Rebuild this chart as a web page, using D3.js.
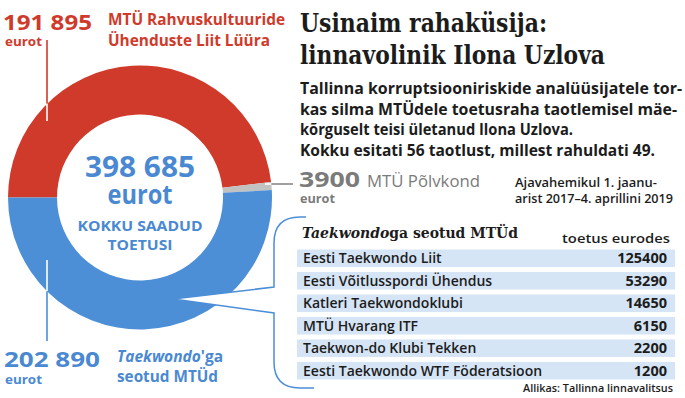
<!DOCTYPE html>
<html>
<head>
<meta charset="utf-8">
<script src="https://cdn.jsdelivr.net/npm/d3@7"></script>
<style>
  body { margin: 0; background: #fff; }
  svg { display: block; }
</style>
</head>
<body>
<svg id="chart" width="685" height="398"></svg>
<script>
// donut data
const segNames = ["MTÜ Rahvuskultuuride Ühenduste Liit Lüüra", "MTÜ Põlvkond", "Taekwondo'ga seotud MTÜd"];
const segValues = [191895, 3900, 202890];

// table data
const tableNames = [
    "Eesti Taekwondo Liit",
    "Eesti Võitlusspordi Ühendus",
    "Katleri Taekwondoklubi",
    "MTÜ Hvarang ITF",
    "Taekwon-do Klubi Tekken",
    "Eesti Taekwondo WTF Föderatsioon"
];
const tableValues = [125400, 53290, 14650, 6150, 2200, 1200];

const red = "#d03a2b";
const blue = "#4c8fd7";
const blueText = "#4a89d2";
const grey = "#c2c2c2";
const greyText = "#7b7b7b";
const ink = "#1c1c1c";
const segColors = [red, grey, blue];

// estonian style: space as thousands separator, only from 5 digits up
const et = d3.formatLocale({ decimal: ",", thousands: " ", grouping: [3], currency: ["", ""] });
const fmt = v => v >= 10000 ? et.format(",")(v) : String(v);

const svg = d3.select("#chart");
const sans = "'Open Sans', 'Noto Sans', sans-serif";
const serif = "'DejaVu Serif', serif";

function addText(x, y, str, o) {
    const t = svg.append("text")
        .attr("x", x)
        .attr("y", y)
        .attr("font-family", o.family || sans)
        .attr("font-size", o.size)
        .attr("font-weight", o.weight || 700)
        .attr("fill", o.fill || ink)
        .attr("text-anchor", o.anchor || "start")
        .text(str);
    if (o.len) t.attr("textLength", o.len).attr("lengthAdjust", "spacingAndGlyphs");
    if (o.style) t.attr("font-style", o.style);
    return t;
}

// ---- donut ----
const cx = 140, cy = 197.5, rOut = 132, rIn = 83;
const pie = d3.pie().sort(null).startAngle(-Math.PI / 2).endAngle(1.5 * Math.PI);
const arc = d3.arc().innerRadius(rIn).outerRadius(rOut);

svg.append("g")
    .attr("transform", `translate(${cx},${cy})`)
    .selectAll("path")
    .data(pie(segValues))
    .join("path")
    .attr("d", arc)
    .attr("fill", (d, i) => segColors[i]);

// speech bubble tail pointing into the blue ring
svg.append("path")
    .attr("d", "M274,287 L173,299 L274,313 Z")
    .attr("fill", "#fff");
svg.append("path")
    .attr("d", "M306,217 L300,217 Q274,217 274,243 L274,287 L173,299 L274,313 L274,362 Q274,388 300,388 L314,388")
    .attr("fill", "none")
    .attr("stroke", blue)
    .attr("stroke-width", 1.5);

// leader lines (coloured outside the ring, white inside it)
const lx = 47;
const dyRing = Math.sqrt(rOut * rOut - (lx - cx) * (lx - cx));
function seg(x1, y1, x2, y2, c) {
    svg.append("line").attr("x1", x1).attr("y1", y1).attr("x2", x2).attr("y2", y2)
        .attr("stroke", c).attr("stroke-width", 1.6);
}
seg(lx, 40, lx, cy - dyRing, red);
seg(lx, cy - dyRing, lx, 121, "#fff");
seg(lx, 260, lx, cy + dyRing, "#fff");
seg(lx, cy + dyRing, lx, 341, blue);
const gy = 184;
const gxRing = cx + Math.sqrt(rOut * rOut - (gy - cy) * (gy - cy));
seg(265, gy, gxRing, gy, "#fff");
seg(gxRing, gy, 293, gy, "#8a8a8a");

// ---- donut labels ----
addText(3, 30, fmt(segValues[0]), { size: 22, fill: red, len: 89 });
addText(5, 46, "eurot", { size: 12, fill: red, len: 37 });
addText(108, 25, "MTÜ Rahvuskultuuride", { size: 15.5, fill: red, len: 177 });
addText(108, 46, "Ühenduste Liit Lüüra", { size: 15.5, fill: red, len: 162 });

addText(299, 187, fmt(segValues[1]), { size: 22, fill: greyText, len: 61 });
addText(367, 187, "MTÜ Põlvkond", { size: 15.5, weight: 500, fill: greyText, len: 113 });
addText(300, 203, "eurot", { size: 12, fill: greyText, len: 35 });

addText(4, 367, fmt(segValues[2]), { size: 22, fill: blueText, len: 96 });
addText(5, 384, "eurot", { size: 12, fill: blueText, len: 37 });
const tk = addText(117, 362, "", { size: 15.5, fill: blueText });
tk.append("tspan").attr("font-style", "italic").text("Taekwondo");
tk.append("tspan").text("'ga");
addText(117, 382, "seotud MTÜd", { size: 15.5, fill: blueText, len: 101 });

// centre total
addText(cx, 177, fmt(d3.sum(segValues)), { size: 28, fill: blueText, anchor: "middle", len: 110 });
addText(cx, 204, "eurot", { size: 26, fill: blueText, anchor: "middle", len: 65 });
addText(cx, 231, "KOKKU SAADUD", { size: 15, fill: blueText, anchor: "middle", len: 125 });
addText(cx, 250, "TOETUSI", { size: 15, fill: blueText, anchor: "middle", len: 65 });

// ---- headline ----
addText(300, 32, "Usinaim rahaküsija:", { family: serif, size: 26, len: 247 });
addText(300, 64, "linnavolinik Ilona Uzlova", { family: serif, size: 26, len: 305 });

const para = [
    ["Tallinna korruptsiooniriskide analüüsijatele tor-", 382],
    ["kas silma MTÜdele toetusraha taotlemisel mäe-", 377],
    ["kõrguselt teisi ületanud Ilona Uzlova.", 273],
    ["Kokku esitati 56 taotlust, millest rahuldati 49.", 355]
];
para.forEach((p, i) => addText(300, 94 + i * 20.5, p[0], { size: 16, len: p[1] }));

addText(515, 187, "Ajavahemikul 1. jaanu-", { size: 12.5, weight: 600, len: 142 });
addText(515, 203, "arist 2017–4. aprillini 2019", { size: 12.5, weight: 600, len: 158 });

// ---- table ----
const hd = addText(302, 238, "", { family: serif, size: 15.5, len: 216 });
hd.append("tspan").attr("font-style", "italic").text("Taekwondo");
hd.append("tspan").text("ga seotud MTÜd");
addText(670, 243, "toetus eurodes", { size: 13, weight: 600, anchor: "end", len: 108 });

const y = d3.scaleBand()
    .domain(tableNames)
    .range([249.5, 379.5])
    .paddingInner(0.22);

const rows = svg.append("g")
    .selectAll("g")
    .data(tableNames.map((n, i) => ({ name: n, value: tableValues[i] })))
    .join("g")
    .attr("transform", d => `translate(0,${y(d.name)})`);

rows.append("rect")
    .attr("x", 297)
    .attr("width", 378)
    .attr("height", y.bandwidth())
    .attr("fill", "#d5e5f5");

rows.append("text")
    .attr("x", 303)
    .attr("y", y.bandwidth() / 2 + 5)
    .attr("font-family", sans)
    .attr("font-size", 14)
    .attr("font-weight", 600)
    .attr("fill", ink)
    .text(d => d.name);

rows.append("text")
    .attr("x", 667)
    .attr("y", y.bandwidth() / 2 + 5)
    .attr("text-anchor", "end")
    .attr("font-family", sans)
    .attr("font-size", 14.5)
    .attr("font-weight", 700)
    .attr("fill", ink)
    .text(d => d.value);

addText(673, 392, "Allikas: Tallinna linnavalitsus", { size: 11, weight: 600, anchor: "end", len: 150 });
</script>
</body>
</html>
